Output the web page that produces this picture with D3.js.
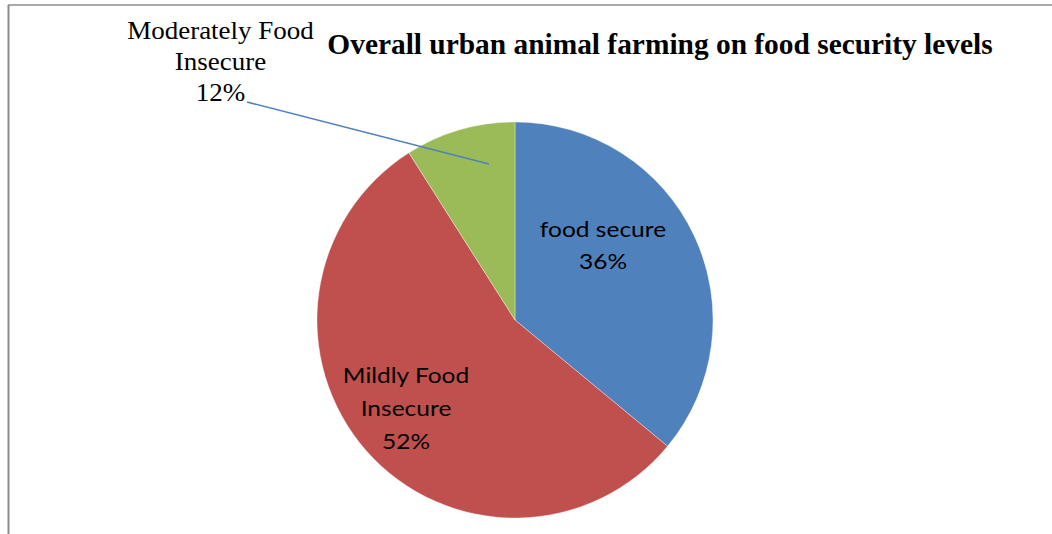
<!DOCTYPE html>
<html><head><meta charset="utf-8">
<script src="https://cdn.jsdelivr.net/npm/d3@7"></script>
<style>body{margin:0;background:#fff}svg{display:block}</style>
</head><body>
<script>
const categories = ["food secure", "Mildly Food Insecure", "Moderately Food Insecure"];
const sliceValues = [36, 55, 9];          // slice sizes as drawn
const labelPercents = ["36%", "52%", "12%"]; // data label texts
const colors = ["#4F81BD", "#C0504D", "#9BBB59"];
const labelLines = [["food secure"], ["Mildly Food", "Insecure"], ["Moderately Food", "Insecure"]];
const title = "Overall urban animal farming on food security levels";

const W = 1052, H = 534;
const svg = d3.select("body").append("svg").attr("width", W).attr("height", H);

// chart border (left & top visible)
svg.append("line").attr("x1", 8).attr("y1", 5).attr("x2", W + 5).attr("y2", 5).attr("stroke", "#8c8c8c").attr("stroke-width", 1.5);
svg.append("line").attr("x1", 8.5).attr("y1", 5).attr("x2", 8.5).attr("y2", H + 5).attr("stroke", "#8c8c8c").attr("stroke-width", 2);

function stretchedText(parent, x, y, sx, font, size, weight, lines, lh) {
  const gg = parent.append("g").attr("transform", `translate(${x},${y}) scale(${sx},1)`);
  const t = gg.append("text").attr("text-anchor", "middle").attr("font-family", font)
    .attr("font-size", size).attr("font-weight", weight).attr("fill", "#000");
  lines.forEach((s, j) => t.append("tspan").attr("x", 0).attr("y", j * lh).text(s));
  return gg;
}

stretchedText(svg, 660, 54, 1.0, "Liberation Serif, Times New Roman, serif", 29.4, "bold", [title], 0);

const cx = 515, cy = 320, r = 198;
const pie = d3.pie().sort(null).value(d => d);
const arcs = pie(sliceValues);
const arc = d3.arc().innerRadius(0).outerRadius(r);
const g = svg.append("g").attr("transform", `translate(${cx},${cy})`);
g.selectAll("path").data(arcs).join("path").attr("d", arc)
  .attr("fill", (d, i) => colors[i]).attr("stroke", "rgba(255,255,255,0.5)").attr("stroke-width", 0.7);

// inside labels
stretchedText(svg, 603, 237, 1.115, "Lato, sans-serif", 22, "normal", [...labelLines[0], labelPercents[0]], 32.5);
stretchedText(svg, 406, 383, 1.115, "Lato, sans-serif", 22, "normal", [...labelLines[1], labelPercents[1]], 33);

// outside label with leader
svg.append("line").attr("x1", 247).attr("y1", 102).attr("x2", 489).attr("y2", 164)
  .attr("stroke", "#4F81BD").attr("stroke-width", 1.6);
stretchedText(svg, 220.5, 38.5, 1.08, "Liberation Serif, Times New Roman, serif", 25, "normal", [...labelLines[2], labelPercents[2]], 31.5);
</script>
</body></html>
